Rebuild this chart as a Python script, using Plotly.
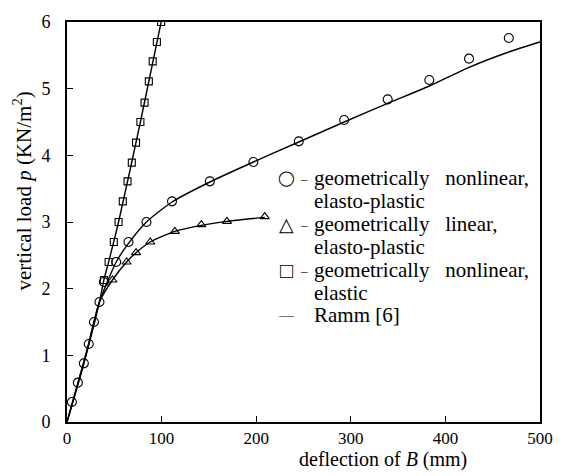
import plotly.graph_objects as go

# ---- data ----
circ_x = [5.2, 11.5, 17.8, 23, 28.5, 34.3, 39, 52, 65, 84, 111, 151, 197, 245, 293, 339, 383, 425, 467]
circ_y = [0.30, 0.59, 0.88, 1.17, 1.50, 1.80, 2.10, 2.40, 2.70, 3.00, 3.31, 3.61, 3.90, 4.21, 4.53, 4.84, 5.13, 5.45, 5.76]

tri_x = [48, 63, 73, 88, 114, 142, 169, 209]
tri_y = [2.13, 2.40, 2.54, 2.70, 2.86, 2.96, 3.01, 3.08]

sq_x = [39, 44, 49.5, 54.5, 59, 64, 68.5, 73, 77.6, 82, 86.5, 90.6, 95, 99.5]
sq_y = [2.13, 2.40, 2.70, 3.00, 3.31, 3.61, 3.89, 4.19, 4.50, 4.79, 5.11, 5.41, 5.70, 6.00]

# Ramm [6] reference curves
ramm_c_x = [0, 11.5, 23, 34.3, 52, 65, 84, 111, 151, 197, 245, 293, 339, 383, 425, 467, 500]
ramm_c_y = [0, 0.59, 1.17, 1.80, 2.40, 2.68, 3.00, 3.30, 3.60, 3.90, 4.20, 4.50, 4.78, 5.04, 5.32, 5.55, 5.70]

ramm_t_x = [0, 17.8, 34.3, 48, 63, 73, 88, 114, 142, 169, 209]
ramm_t_y = [0, 0.88, 1.80, 2.13, 2.40, 2.54, 2.70, 2.86, 2.95, 3.01, 3.07]

ramm_s_x = [0, 17.8, 34.3, 39, 44, 54.5, 77.6, 99.5]
ramm_s_y = [0, 0.88, 1.80, 2.13, 2.40, 3.00, 4.50, 6.00]

x_ticks = [0, 100, 200, 300, 400, 500]
y_ticks = [0, 1, 2, 3, 4, 5, 6]

legend_rows = [
    ("◯", "–", "geometrically   nonlinear,"),
    ("", "", "elasto-plastic"),
    ("△", "–", "geometrically   linear,"),
    ("", "", "elasto-plastic"),
    ("□", "–", "geometrically   nonlinear,"),
    ("", "", "elastic"),
    ("—", "", "Ramm [6]"),
]

FONT = "Liberation Serif"
fig = go.Figure()

for lx, ly in [(ramm_c_x, ramm_c_y), (ramm_t_x, ramm_t_y), (ramm_s_x, ramm_s_y)]:
    fig.add_trace(go.Scatter(x=lx, y=ly, mode="lines",
                             line=dict(color="black", width=1.4, shape="spline", smoothing=0.6),
                             hoverinfo="skip", showlegend=False))

fig.add_trace(go.Scatter(x=circ_x, y=circ_y, mode="markers",
                         marker=dict(symbol="circle-open", size=9, color="black", line=dict(width=1.1)),
                         showlegend=False))
fig.add_trace(go.Scatter(x=tri_x, y=tri_y, mode="markers",
                         marker=dict(symbol="triangle-up-open", size=8, color="black", line=dict(width=1.1)),
                         showlegend=False))
fig.add_trace(go.Scatter(x=sq_x, y=sq_y, mode="markers",
                         marker=dict(symbol="square-open", size=7, color="black", line=dict(width=1.1)),
                         showlegend=False))

# plot area in pixels: left 67, right 543, top 13, bottom 422
W, H = 565, 476
L, R, T, B = 67, 543, 13, 422
def px(x):
    return (x - L) / (R - L)
def py(y):
    return (B - y) / (B - T)

row_y = [173, 196, 220, 243, 267, 290, 313]
sym_size = {"◯": 15, "△": 19, "□": 22, "—": 15}
for (sym, dash, txt), yy in zip(legend_rows, row_y):
    if sym:
        fig.add_annotation(x=px(288), y=py(yy), xref="paper", yref="paper", text=sym,
                           showarrow=False, xanchor="center", yanchor="middle",
                           font=dict(family=FONT, size=sym_size[sym], color="black"))
    if dash:
        fig.add_annotation(x=px(306), y=py(yy), xref="paper", yref="paper", text=dash,
                           showarrow=False, xanchor="center", yanchor="middle",
                           font=dict(family=FONT, size=13, color="black"))
    fig.add_annotation(x=px(314), y=py(yy), xref="paper", yref="paper", text=txt,
                       showarrow=False, xanchor="left", yanchor="middle",
                       font=dict(family=FONT, size=21, color="black"))

fig.add_annotation(x=px(385), y=py(460), xref="paper", yref="paper",
                   text="deflection of <i>B</i> (mm)", showarrow=False,
                   xanchor="center", yanchor="middle",
                   font=dict(family=FONT, size=20, color="black"))
fig.add_annotation(x=px(22), y=py(186), xref="paper", yref="paper",
                   text="vertical load <i>p</i> (KN/m<sup>2</sup>)", showarrow=False,
                   textangle=-90, xanchor="center", yanchor="middle",
                   font=dict(family=FONT, size=21, color="black"))

fig.update_xaxes(range=[0, 500], tickvals=x_ticks, ticks="inside", ticklen=6, tickwidth=1.2,
                 tickcolor="black", showline=True, linecolor="black", linewidth=2, mirror=True,
                 showgrid=False, zeroline=False, ticklabelstandoff=0,
                 tickfont=dict(family=FONT, size=17, color="black"))
fig.update_yaxes(range=[0, 6], tickvals=y_ticks, ticks="inside", ticklen=6, tickwidth=1.2,
                 tickcolor="black", showline=True, linecolor="black", linewidth=2, mirror=True,
                 showgrid=False, zeroline=False, ticklabelstandoff=11,
                 tickfont=dict(family=FONT, size=18, color="black"))

fig.update_layout(width=W, height=H, margin=dict(l=L, r=W - R, t=T, b=H - B),
                  paper_bgcolor="white", plot_bgcolor="white", showlegend=False,
                  font=dict(family=FONT))

fig.write_html("out.html")
